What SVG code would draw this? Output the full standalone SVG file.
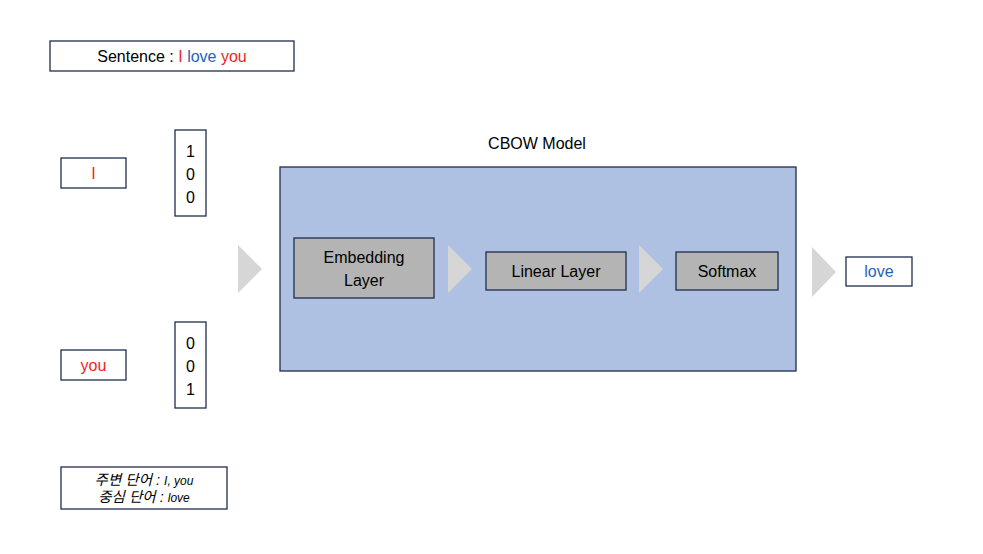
<svg xmlns="http://www.w3.org/2000/svg" width="983" height="554" viewBox="0 0 983 554">
<style>
text{font-family:"Liberation Sans","Noto Sans CJK KR",sans-serif;fill:#000;}
.box{fill:#fff;stroke:#1F2D4E;stroke-width:1.3;}
.layer{fill:#B4B4B4;stroke:#1F2D4E;stroke-width:1.3;}
.arr{fill:#D6D6D6;}
.red{fill:#F01E23;}
.blue{fill:#1F63B8;}
.t{font-size:16px;text-anchor:middle;}
</style>
<rect width="983" height="554" fill="#fff"/>
<g id="sentence">
<rect class="box" x="50" y="41" width="244" height="30"/>
<text class="t" x="172" y="62">Sentence : <tspan class="red">I</tspan> <tspan class="blue">love</tspan> <tspan class="red">you</tspan></text>
</g>
<g id="word-I">
<rect class="box" x="61" y="158" width="65" height="30"/>
<text class="t red" x="93.5" y="179">I</text>
</g>
<g id="onehot-I">
<rect class="box" x="175" y="130" width="31" height="86"/>
<text class="t" x="190.5" y="157">1</text>
<text class="t" x="190.5" y="180">0</text>
<text class="t" x="190.5" y="203">0</text>
</g>
<g id="word-you">
<rect class="box" x="61" y="350" width="65" height="30"/>
<text class="t red" x="93.5" y="371">you</text>
</g>
<g id="onehot-you">
<rect class="box" x="175" y="322" width="31" height="86"/>
<text class="t" x="190.5" y="349">0</text>
<text class="t" x="190.5" y="372">0</text>
<text class="t" x="190.5" y="395">1</text>
</g>
<g id="legend">
<rect class="box" x="61" y="467" width="166" height="42"/>
<text x="144" y="485" text-anchor="middle" font-style="italic" font-size="14.5">주변 단어 : <tspan font-size="12">I, you</tspan></text>
<text x="144" y="502" text-anchor="middle" font-style="italic" font-size="14.5">중심 단어 : <tspan font-size="12">love</tspan></text>
</g>
<g id="cbow">
<text class="t" x="537" y="149">CBOW Model</text>
<rect x="280" y="167" width="516" height="204" fill="#AEC1E3" stroke="#1F2D4E" stroke-width="1.3"/>
</g>
<g id="embedding">
<rect class="layer" x="294" y="238" width="140" height="60"/>
<text class="t" x="364" y="263">Embedding</text>
<text class="t" x="364" y="286">Layer</text>
</g>
<g id="linear">
<rect class="layer" x="486" y="252" width="140" height="38"/>
<text class="t" x="556" y="277">Linear Layer</text>
</g>
<g id="softmax">
<rect class="layer" x="676" y="252" width="102" height="38"/>
<text class="t" x="727" y="277">Softmax</text>
</g>
<g id="word-love">
<rect class="box" x="846" y="257" width="66" height="29"/>
<text class="t blue" x="879" y="277">love</text>
</g>
<g id="connectors">
<polygon class="arr" points="238,245 262,269 238,293"/>
<polygon class="arr" points="448,245 472,269 448,293"/>
<polygon class="arr" points="639,245 663,269 639,293"/>
<polygon class="arr" points="812,247 836,272 812,297"/>
</g>
</svg>
